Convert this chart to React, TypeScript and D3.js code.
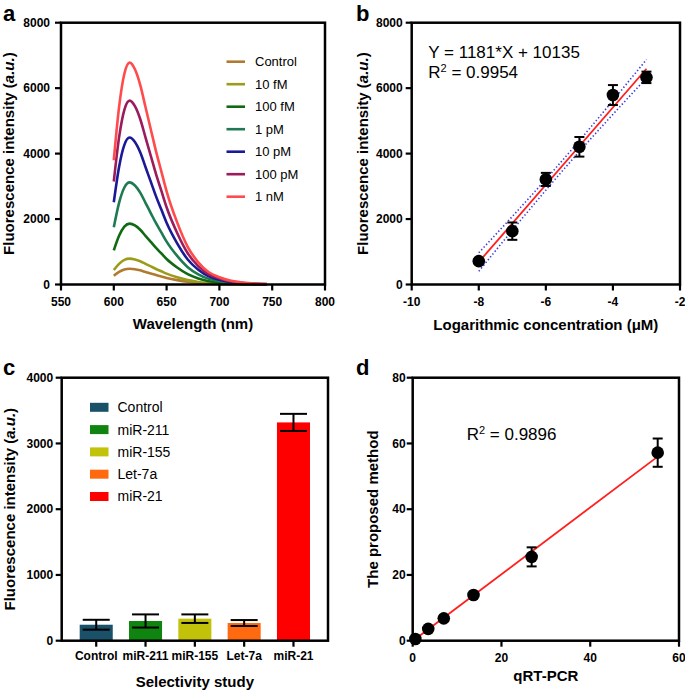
import React from 'react';
import * as d3 from 'd3';

// ---------- Panel a: emission spectra ----------
const wavelengths = [600, 605, 610, 615, 620, 625, 630, 635, 640, 645, 650, 660, 670, 680, 690, 700, 710, 720, 730, 745];
const specControl = [269, 384, 456, 480, 466, 432, 384, 336, 288, 245, 202, 134, 82, 48, 26, 16, 9, 5, 2, 1];
const spec10fM = [442, 632, 751, 790, 766, 711, 632, 553, 474, 403, 332, 221, 134, 79, 43, 26, 14, 8, 4, 2];
const spec100fM = [1042, 1488, 1767, 1860, 1804, 1674, 1488, 1302, 1116, 949, 781, 521, 316, 186, 102, 61, 33, 19, 9, 4];
const spec1pM = [1747, 2496, 2964, 3120, 3026, 2808, 2496, 2184, 1872, 1591, 1310, 874, 530, 312, 172, 103, 56, 31, 16, 6];
const spec10pM = [2514, 3592, 4266, 4490, 4355, 4041, 3592, 3143, 2694, 2290, 1886, 1257, 763, 449, 247, 148, 81, 45, 22, 9];
const spec100pM = [3147, 4496, 5339, 5620, 5451, 5058, 4496, 3934, 3372, 2866, 2360, 1574, 955, 562, 309, 185, 101, 56, 28, 11];
const spec1nM = [3797, 5424, 6441, 6780, 6577, 6102, 5424, 4746, 4068, 3458, 2848, 1898, 1153, 678, 373, 224, 122, 68, 34, 14];
const specNames = ['Control', '10 fM', '100 fM', '1 pM', '10 pM', '100 pM', '1 nM'];
const specColors = ['#b07a30', '#9c9c1c', '#0f6a12', '#1e7a52', '#1a1a96', '#9a1c5c', '#ff4b4b'];
const specSeries = [specControl, spec10fM, spec100fM, spec1pM, spec10pM, spec100pM, spec1nM];
const aXTicks = [550, 600, 650, 700, 750, 800];
const aYTicks = [0, 2000, 4000, 6000, 8000];

// ---------- Panel b: calibration ----------
const logConc = [-8, -7, -6, -5, -4, -3];
const bIntensity = [713, 1630, 3211, 4208, 5789, 6330];
const bError = [60, 265, 200, 300, 305, 175];
const bFitX = [-8, -3];
const bFitY = [687, 6592];
const bBandUpper = [969, 2080, 3215, 4396, 5623, 6874];
const bBandLower = [405, 1656, 2883, 4064, 5199, 6310];
const bXTicks = [-10, -8, -6, -4, -2];
const bYTicks = [0, 2000, 4000, 6000, 8000];

// ---------- Panel c: selectivity ----------
const cCategories = ['Control', 'miR-211', 'miR-155', 'Let-7a', 'miR-21'];
const cValues = [243, 300, 335, 269, 3320];
const cErrors = [75, 100, 65, 45, 130];
const cColors = ['#1a5068', '#108410', '#c2c20a', '#ff6a10', '#ff0000'];
const cYTicks = [0, 1000, 2000, 3000, 4000];

// ---------- Panel d: method comparison ----------
const dQpcr = [0.6, 3.5, 7.0, 13.7, 26.8, 55.2];
const dProposed = [0.5, 3.6, 6.8, 13.9, 25.5, 57.2];
const dError = [0.3, 0.3, 0.4, 0.5, 2.9, 4.3];
const dFitX = [0.3, 55.2];
const dFitY = [0.2, 56.0];
const dXTicks = [0, 20, 40, 60];
const dYTicks = [0, 20, 40, 60, 80];

const FONT = '"Liberation Sans", Arial, Helvetica, sans-serif';

type Box = { x0: number; x1: number; y0: number; y1: number };

function Frame({ b }: { b: Box }) {
  return (
    <rect x={b.x0} y={b.y0} width={b.x1 - b.x0} height={b.y1 - b.y0} fill="none" stroke="#000" strokeWidth={2.5} />
  );
}

function YAxis({ b, scale, ticks, gap = 5, fmt = (v: number) => String(v) }: any) {
  return (
    <g>
      {ticks.map((t: number) => (
        <g key={t}>
          <line x1={b.x0 - 6} x2={b.x0} y1={scale(t)} y2={scale(t)} stroke="#000" strokeWidth={2.2} />
          <text x={b.x0 - 6 - gap} y={scale(t)} dy="0.35em" textAnchor="end" fontSize={12} fontWeight="bold" fontFamily={FONT}>
            {fmt(t)}
          </text>
        </g>
      ))}
    </g>
  );
}

function XAxis({ b, scale, ticks, off = 21.5, labels }: any) {
  return (
    <g>
      {ticks.map((t: any, i: number) => (
        <g key={String(t)}>
          <line x1={scale(t)} x2={scale(t)} y1={b.y1} y2={b.y1 + 6} stroke="#000" strokeWidth={2.2} />
          <text x={scale(t)} y={b.y1 + off} textAnchor="middle" fontSize={12} fontWeight="bold" fontFamily={FONT}>
            {labels ? labels[i] : String(t)}
          </text>
        </g>
      ))}
    </g>
  );
}

function ErrBar({ x, yTop, yBot, cap }: { x: number; yTop: number; yBot: number; cap: number }) {
  return (
    <g stroke="#000" strokeWidth={2}>
      <line x1={x} x2={x} y1={yTop} y2={yBot} />
      <line x1={x - cap / 2} x2={x + cap / 2} y1={yTop} y2={yTop} />
      <line x1={x - cap / 2} x2={x + cap / 2} y1={yBot} y2={yBot} />
    </g>
  );
}

export default function App() {
  // Panel a
  const A: Box = { x0: 61, x1: 325, y0: 22.7, y1: 284.5 };
  const ax = d3.scaleLinear().domain([550, 800]).range([A.x0, A.x1]);
  const ay = d3.scaleLinear().domain([0, 8000]).range([A.y1, A.y0]);
  const aLine = (vals: number[]) =>
    d3.line<number>().x((_, i) => ax(wavelengths[i])).y((v) => ay(v)).curve(d3.curveMonotoneX)(vals) || '';

  // Panel b
  const B: Box = { x0: 411.7, x1: 680, y0: 22.7, y1: 284.5 };
  const bx = d3.scaleLinear().domain([-10, -2]).range([B.x0, B.x1]);
  const by = d3.scaleLinear().domain([0, 8000]).range([B.y1, B.y0]);
  const bLine = (xs: number[], ys: number[]) =>
    d3.line<number>().x((_, i) => bx(xs[i])).y((v) => by(v)).curve(d3.curveMonotoneX)(ys) || '';

  // Panel c
  const C: Box = { x0: 61.7, x1: 328, y0: 377.7, y1: 640.7 };
  const cx = d3.scaleBand<string>().domain(cCategories).range([C.x0, C.x1]).paddingInner(0.33).paddingOuter(0.365);
  const cy = d3.scaleLinear().domain([0, 4000]).range([C.y1, C.y0]);
  const cMid = (c: string) => (cx(c) || 0) + cx.bandwidth() / 2;

  // Panel d
  const D: Box = { x0: 412.7, x1: 679, y0: 377.7, y1: 640.7 };
  const dx = d3.scaleLinear().domain([0, 60]).range([D.x0, D.x1]);
  const dy = d3.scaleLinear().domain([0, 80]).range([D.y1, D.y0]);

  const title = { fontSize: 15, fontWeight: 'bold' as const, fontFamily: FONT };

  return (
    <svg width={685} height={691} style={{ position: 'absolute', left: 0, top: 0, background: '#fff' }} fontFamily={FONT}>
      <rect x={0} y={0} width={685} height={691} fill="#fff" />

      {/* ===== Panel a ===== */}
      <text x={3} y={21} fontSize={22} fontWeight="bold">a</text>
      {specSeries.map((s, i) => (
        <path key={i} d={aLine(s)} fill="none" stroke={specColors[i]} strokeWidth={2.6} />
      ))}
      {specNames.map((n, i) => {
        const y = 61.7 + i * 22.5;
        return (
          <g key={n}>
            <line x1={226.5} x2={245} y1={y} y2={y} stroke={specColors[i]} strokeWidth={2.6} />
            <text x={255} y={y} dy="0.35em" fontSize={13}>{n}</text>
          </g>
        );
      })}
      <Frame b={A} />
      <YAxis b={A} scale={ay} ticks={aYTicks} gap={5} />
      <XAxis b={A} scale={ax} ticks={aXTicks} />
      <text x={(A.x0 + A.x1) / 2} y={329} textAnchor="middle" {...title}>Wavelength (nm)</text>
      <text transform={`translate(14,${(A.y0 + A.y1) / 2}) rotate(-90)`} textAnchor="middle" {...title}>
        Fluorescence intensity (<tspan fontStyle="italic">a.u.</tspan>)
      </text>

      {/* ===== Panel b ===== */}
      <text x={356} y={21} fontSize={22} fontWeight="bold">b</text>
      <path d={bLine(logConc, bBandUpper)} fill="none" stroke="#3b3bdc" strokeWidth={1.6} strokeDasharray="1.4 2.2" />
      <path d={bLine(logConc, bBandLower)} fill="none" stroke="#3b3bdc" strokeWidth={1.6} strokeDasharray="1.4 2.2" />
      <path d={bLine(bFitX, bFitY)} fill="none" stroke="#ff1e1e" strokeWidth={1.8} />
      {logConc.map((c, i) => (
        <g key={c}>
          <ErrBar x={bx(c)} yTop={by(bIntensity[i] + bError[i])} yBot={by(bIntensity[i] - bError[i])} cap={10} />
          <circle cx={bx(c)} cy={by(bIntensity[i])} r={6.3} fill="#000" />
        </g>
      ))}
      <Frame b={B} />
      <YAxis b={B} scale={by} ticks={bYTicks} gap={3} />
      <XAxis b={B} scale={bx} ticks={bXTicks} />
      <text x={(B.x0 + B.x1) / 2} y={330} textAnchor="middle" {...title}>Logarithmic concentration (μM)</text>
      <text transform={`translate(367.5,${(B.y0 + B.y1) / 2}) rotate(-90)`} textAnchor="middle" {...title}>
        Fluorescence intensity (<tspan fontStyle="italic">a.u.</tspan>)
      </text>
      <text x={428.3} y={58.3} fontSize={17}>Y = 1181*X + 10135</text>
      <text x={428.3} y={77.8} fontSize={17}>
        R<tspan fontSize={11} dy={-6}>2</tspan><tspan dy={6}> = 0.9954</tspan>
      </text>

      {/* ===== Panel c ===== */}
      <text x={3} y={375} fontSize={22} fontWeight="bold">c</text>
      {cCategories.map((c, i) => (
        <g key={c}>
          <rect x={cx(c)} y={cy(cValues[i])} width={cx.bandwidth()} height={cy(0) - cy(cValues[i])} fill={cColors[i]} />
          <ErrBar x={cMid(c)} yTop={cy(cValues[i] + cErrors[i])} yBot={cy(cValues[i] - cErrors[i])} cap={27} />
        </g>
      ))}
      {cCategories.map((c, i) => {
        const y = 407.3 + i * 22.3;
        return (
          <g key={'lg' + c}>
            <rect x={90} y={y - 4.5} width={18.5} height={9} fill={cColors[i]} />
            <text x={117.5} y={y} dy="0.35em" fontSize={14}>{c}</text>
          </g>
        );
      })}
      <Frame b={C} />
      <YAxis b={C} scale={cy} ticks={cYTicks} gap={2.5} />
      <XAxis b={C} scale={cMid} ticks={cCategories} off={19.5} />
      <text x={(C.x0 + C.x1) / 2} y={687} textAnchor="middle" {...title}>Selectivity study</text>
      <text transform={`translate(15,${(C.y0 + C.y1) / 2}) rotate(-90)`} textAnchor="middle" {...title}>
        Fluorescence intensity (<tspan fontStyle="italic">a.u.</tspan>)
      </text>

      {/* ===== Panel d ===== */}
      <text x={356} y={375} fontSize={22} fontWeight="bold">d</text>
      <line x1={dx(dFitX[0])} x2={dx(dFitX[1])} y1={dy(dFitY[0])} y2={dy(dFitY[1])} stroke="#ff1e1e" strokeWidth={1.8} />
      {dQpcr.map((q, i) => (
        <g key={q}>
          {dError[i] > 1 && (
            <ErrBar x={dx(q)} yTop={dy(dProposed[i] + dError[i])} yBot={dy(dProposed[i] - dError[i])} cap={10} />
          )}
          <circle cx={dx(q)} cy={dy(dProposed[i])} r={6.3} fill="#000" />
        </g>
      ))}
      <Frame b={D} />
      <YAxis b={D} scale={dy} ticks={dYTicks} gap={1} />
      <XAxis b={D} scale={dx} ticks={dXTicks} />
      <text x={(D.x0 + D.x1) / 2} y={681} textAnchor="middle" {...title}>qRT-PCR</text>
      <text transform={`translate(377.5,${(D.y0 + D.y1) / 2}) rotate(-90)`} textAnchor="middle" {...title}>
        The proposed method
      </text>
      <text x={466.7} y={440} fontSize={17}>
        R<tspan fontSize={11} dy={-6}>2</tspan><tspan dy={6}> = 0.9896</tspan>
      </text>
    </svg>
  );
}
